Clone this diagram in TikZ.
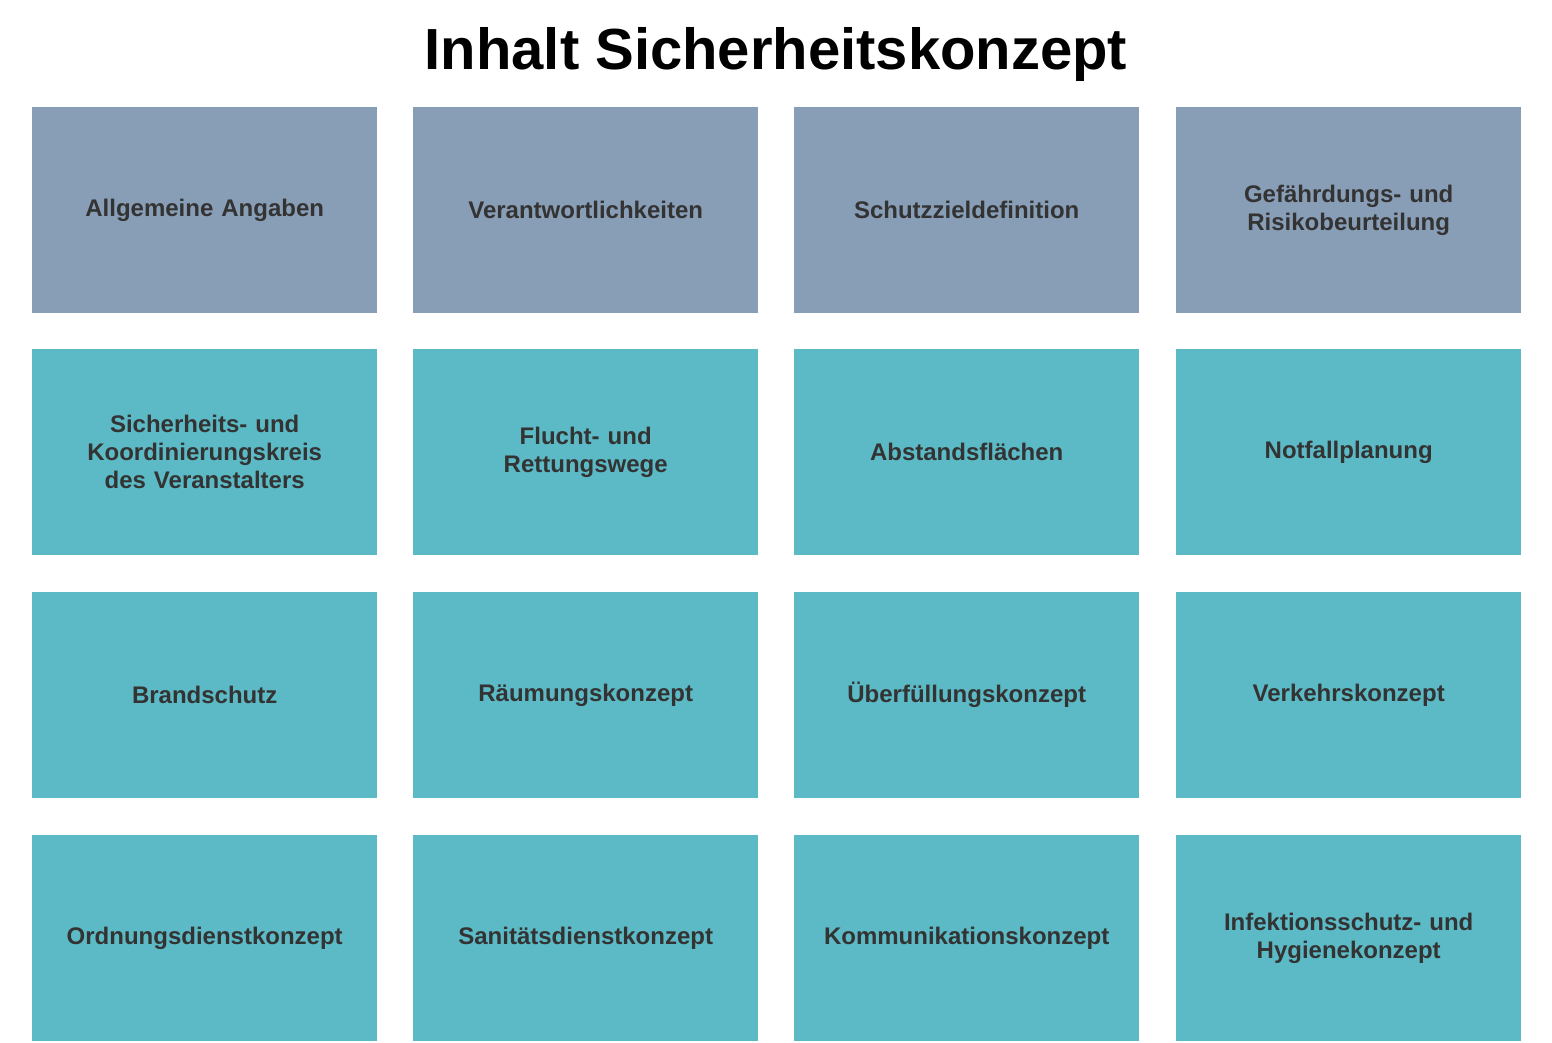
\documentclass[tikz,border=0pt]{standalone}
\usepackage{fontspec}
\setmainfont{Liberation Sans}
\definecolor{topc}{HTML}{889DB6}
\definecolor{mainc}{HTML}{5BBAC5}
\definecolor{txt}{HTML}{333333}
\begin{document}
\begin{tikzpicture}[x=1pt,y=-1pt,
  cell/.style={minimum width=345pt,minimum height=206pt,inner sep=0pt,anchor=north west,
    text=txt,font=\fontsize{24}{28}\selectfont\bfseries,align=center,text width=330pt},
  topcell/.style={cell,fill=topc},
  maincell/.style={cell,fill=mainc}]
\useasboundingbox (0,0) rectangle (1552,1043);
\fill[white] (0,0) rectangle (1552,1043);
\node[font=\fontsize{58}{64}\selectfont\bfseries] (title) at (776,55) {Inhalt Sicherheitskonzept};
\node[topcell] (a1) at (32,107) {Allgemeine Angaben};
\node[topcell] (a2) at (413,107) {Verantwortlichkeiten};
\node[topcell] (a3) at (794,107) {Schutzzieldefinition};
\node[topcell] (a4) at (1176,107) {Gefährdungs- und\\Risikobeurteilung};
\node[maincell] (b1) at (32,349) {Sicherheits- und\\Koordinierungskreis\\des Veranstalters};
\node[maincell] (b2) at (413,349) {Flucht- und\\Rettungswege};
\node[maincell] (b3) at (794,349) {Abstandsflächen};
\node[maincell] (b4) at (1176,349) {Notfallplanung};
\node[maincell] (c1) at (32,592) {Brandschutz};
\node[maincell] (c2) at (413,592) {Räumungskonzept};
\node[maincell] (c3) at (794,592) {Überfüllungskonzept};
\node[maincell] (c4) at (1176,592) {Verkehrskonzept};
\node[maincell] (d1) at (32,835) {Ordnungsdienstkonzept};
\node[maincell] (d2) at (413,835) {Sanitätsdienstkonzept};
\node[maincell] (d3) at (794,835) {Kommunikationskonzept};
\node[maincell] (d4) at (1176,835) {Infektionsschutz- und\\Hygienekonzept};
\end{tikzpicture}
\end{document}
